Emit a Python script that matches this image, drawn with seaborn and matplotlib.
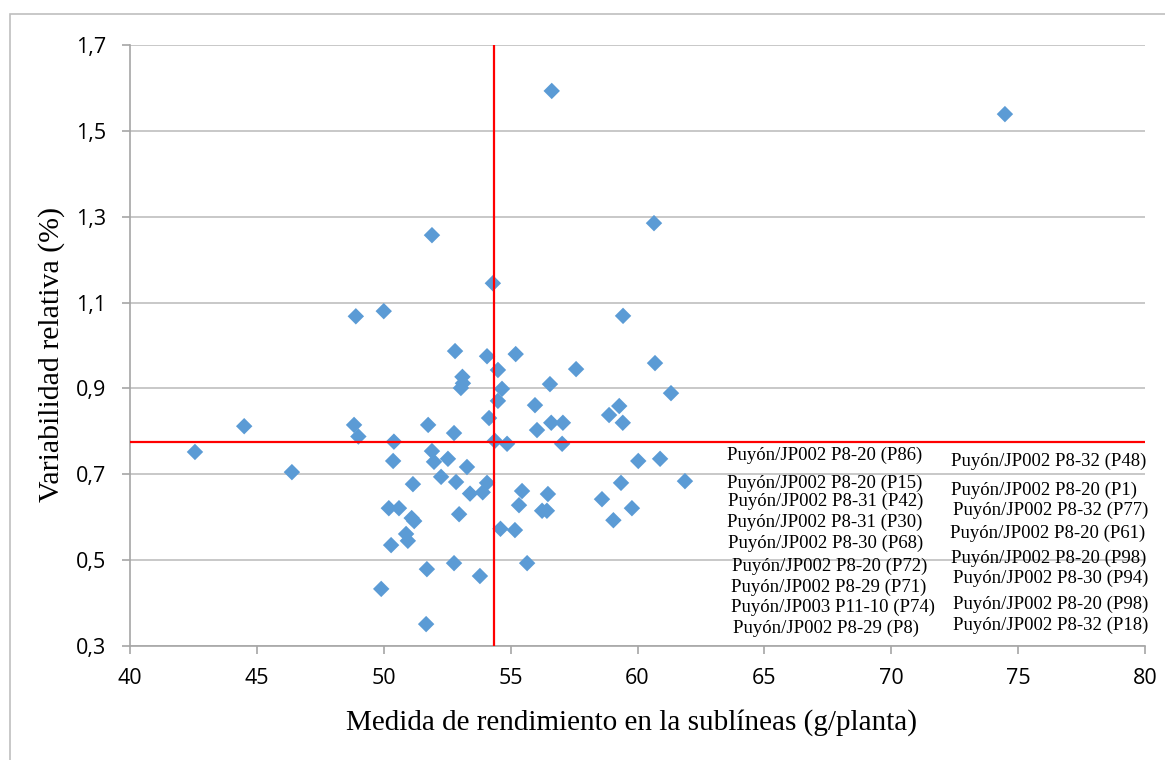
import matplotlib
matplotlib.use("Agg")
import matplotlib.pyplot as plt
import matplotlib.patches as mpatches
from matplotlib.ticker import FuncFormatter
import seaborn as sns
import pandas as pd

# sublíneas: rendimiento (g/planta) y variabilidad relativa (%)
rendimiento = [42.56, 44.50, 46.38, 48.83, 49.00, 48.90, 50.00, 50.40, 50.37, 51.75,
               51.90, 51.98, 52.53, 52.77, 53.28, 52.26, 52.85, 51.15, 53.40, 53.90,
               54.07, 54.15, 54.38, 54.86, 54.50, 54.66, 53.10, 53.12, 53.04, 52.81,
               54.07, 54.50, 55.20, 55.96, 56.04, 56.60, 57.06, 57.03, 56.55, 54.30,
               55.45, 56.47, 55.33, 56.24, 56.43, 50.20, 50.60, 51.10, 51.20, 52.97,
               50.88, 50.95, 50.29, 54.60, 55.17, 51.70, 52.77, 53.79, 55.65, 49.90,
               51.67, 59.43, 60.69, 61.32, 57.58, 59.28, 58.88, 59.42, 60.03, 60.89,
               61.87, 59.35, 58.60, 59.78, 59.05, 56.62, 60.65, 51.90, 74.48]
variabilidad = [0.752, 0.812, 0.705, 0.815, 0.788, 1.068, 1.080, 0.776, 0.731, 0.815,
                0.754, 0.729, 0.736, 0.796, 0.717, 0.694, 0.682, 0.677, 0.655, 0.658,
                0.680, 0.831, 0.778, 0.771, 0.871, 0.899, 0.927, 0.912, 0.901, 0.987,
                0.975, 0.943, 0.980, 0.861, 0.803, 0.820, 0.820, 0.771, 0.910, 1.145,
                0.661, 0.654, 0.628, 0.615, 0.615, 0.621, 0.621, 0.598, 0.591, 0.607,
                0.561, 0.545, 0.535, 0.573, 0.570, 0.479, 0.493, 0.463, 0.493, 0.433,
                0.351, 1.069, 0.959, 0.889, 0.945, 0.859, 0.838, 0.820, 0.731, 0.736,
                0.684, 0.680, 0.642, 0.621, 0.593, 1.593, 1.285, 1.257, 1.539]

media_x = 54.34
media_y = 0.775

etiquetas_izq = ["Puyón/JP002 P8-20 (P86)", "Puyón/JP002 P8-20 (P15)", "Puyón/JP002 P8-31 (P42)",
                 "Puyón/JP002 P8-31 (P30)", "Puyón/JP002 P8-30 (P68)", "Puyón/JP002 P8-20 (P72)",
                 "Puyón/JP002 P8-29 (P71)", "Puyón/JP003 P11-10 (P74)", "Puyón/JP002 P8-29 (P8)"]
etiquetas_der = ["Puyón/JP002 P8-32 (P48)", "Puyón/JP002 P8-20 (P1)", "Puyón/JP002 P8-32 (P77)",
                 "Puyón/JP002 P8-20 (P61)", "Puyón/JP002 P8-20 (P98)", "Puyón/JP002 P8-30 (P94)",
                 "Puyón/JP002 P8-20 (P98)", "Puyón/JP002 P8-32 (P18)"]
# posiciones de las etiquetas (coordenadas de datos)
izq_x = [63.53, 63.53, 63.57, 63.53, 63.57, 63.72, 63.68, 63.68, 63.76]
izq_y = [0.743, 0.680, 0.638, 0.589, 0.540, 0.486, 0.437, 0.391, 0.342]
der_x = [72.36, 72.36, 72.44, 72.32, 72.36, 72.44, 72.44, 72.44]
der_y = [0.729, 0.663, 0.617, 0.563, 0.505, 0.458, 0.398, 0.347]

df = pd.DataFrame({"rendimiento": rendimiento, "variabilidad": variabilidad})

sns.set_style("white")
plt.rcParams['font.family'] = ['Open Sans', 'DejaVu Sans']

fig = plt.figure(figsize=(11.65, 7.6), dpi=100)
ax = fig.add_axes([130 / 1165, 114 / 760, 1015 / 1165, 601 / 760])

# marco de la figura
fig.patches.append(mpatches.Rectangle((10 / 1165, -0.01), 1.02, (760 - 14) / 760 + 0.01,
                                      transform=fig.transFigure, fill=False,
                                      edgecolor="#BFBFBF", linewidth=1.2))

sns.scatterplot(data=df, x="rendimiento", y="variabilidad", marker="D", s=70,
                color="#5B9BD5", edgecolor="none", ax=ax, zorder=3)

ax.hlines(media_y, 40, 80, color="red", linewidth=1.6, zorder=4)
ax.vlines(media_x, 0.3, 1.7, color="red", linewidth=1.6, zorder=4)

for t, x, y in zip(etiquetas_izq, izq_x, izq_y):
    ax.text(x, y, t, family="Liberation Serif", fontsize=13.5, va="center", ha="left",
            color="black", zorder=5)
for t, x, y in zip(etiquetas_der, der_x, der_y):
    ax.text(x, y, t, family="Liberation Serif", fontsize=13.5, va="center", ha="left",
            color="black", zorder=5)

ax.set_xlim(40, 80)
ax.set_ylim(0.3, 1.7)
ax.set_xticks(range(40, 81, 5))
ax.set_yticks([0.3, 0.5, 0.7, 0.9, 1.1, 1.3, 1.5, 1.7])
ax.yaxis.set_major_formatter(FuncFormatter(lambda v, p: f"{v:.1f}".replace(".", ",")))
ax.grid(axis="y", color="#BFBFBF", linewidth=1.2, zorder=0)
ax.set_axisbelow(True)

for s in ["top", "right"]:
    ax.spines[s].set_visible(False)
for s in ["left", "bottom"]:
    ax.spines[s].set_color("#A6A6A6")
    ax.spines[s].set_linewidth(1.2)

ax.tick_params(axis="x", direction="out", length=6, width=1.2, color="#A6A6A6",
               labelsize=15.5, labelcolor="black", pad=10, bottom=True)
ax.tick_params(axis="y", direction="out", length=6, width=1.2, color="#A6A6A6",
               labelsize=15.5, labelcolor="black", pad=11, left=True)

ax.set_xlabel("Medida de rendimiento en la sublíneas (g/planta)", family="Liberation Serif",
              fontsize=21, color="black")
ax.set_ylabel("Variabilidad relativa (%)", family="Liberation Serif", fontsize=21.5,
              color="black")
ax.xaxis.set_label_coords(0.494, -0.105)
ax.yaxis.set_label_coords(-0.064, 0.485)

fig.savefig("out.png", dpi=100)
